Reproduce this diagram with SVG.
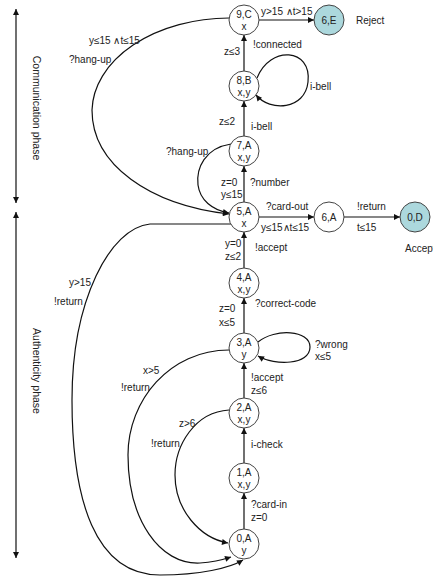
<svg xmlns="http://www.w3.org/2000/svg" width="433" height="576" viewBox="0 0 433 576">
<style>
text{font-family:"Liberation Sans",Arial,sans-serif;font-size:10px;fill:#222}
.st text{text-anchor:middle}
.node circle{fill:#fff;stroke:#444;stroke-width:1}
.node.fin circle{fill:#acd8dd}
#edges path,#phases path{fill:none;stroke:#111;stroke-width:1.2}
#edges path{marker-end:url(#ah)}
.ph{font-size:10.5px;text-anchor:middle}
</style>
<defs>
<marker id="ah" viewBox="0 0 10 10" refX="10" refY="5" markerWidth="7" markerHeight="6" markerUnits="userSpaceOnUse" orient="auto"><path d="M0,0 L10,5 L0,10 z" fill="#111"/></marker>
<marker id="ahs" viewBox="0 0 10 10" refX="10" refY="5" markerWidth="7" markerHeight="6" markerUnits="userSpaceOnUse" orient="auto-start-reverse"><path d="M0,0 L10,5 L0,10 z" fill="#111"/></marker>
</defs>
<rect width="433" height="576" fill="#fff"/>
<g id="phases">
<path d="M16 203 L16 9" marker-start="url(#ahs)" marker-end="url(#ahs)"/>
<path d="M16 558 L16 212" marker-start="url(#ahs)" marker-end="url(#ahs)"/>
<text class="ph" transform="translate(33,108) rotate(90)">Communication phase</text>
<text class="ph" transform="translate(33,371) rotate(90)">Authenticity phase</text>
</g>
<g id="edges">
<path d="M244 529 L244 493"/>
<path d="M244 463 L244 428"/>
<path d="M244 398 L244 363"/>
<path d="M244 333 L244 298"/>
<path d="M244 268 L244 232"/>
<path d="M244 202 L244 166"/>
<path d="M244 136 L244 101"/>
<path d="M244 71 L244 35"/>
<path d="M259 20 L314 20"/>
<path d="M259 217 L314 217"/>
<path d="M344 217 L400 217"/>
<path d="M257 78 C270 45 312 48 308 82 C305 110 270 112 256 95"/>
<path d="M258 342 C275 328 310 330 310 347 C310 365 275 366 258 356"/>
<path d="M229 18 A138 94 0 0 0 92 110 C92 165 150 205 229 214"/>
<path d="M231 144 C205 148 196 168 198 185 C200 200 212 210 229 213"/>
<path d="M231 224 L150 224 C110 228 72 300 72 400 C72 500 95 575 160 575 C200 575 230 568 243 560"/>
<path d="M229 350 C170 350 128 400 128 455 C128 520 160 565 200 563 C215 562 225 559 231 557"/>
<path d="M229 410 C195 412 175 445 175 475 C175 510 200 538 228 543"/>
</g>
<g id="labels">
<text x="261" y="14.5">y&gt;15 ∧t&gt;15</text>
<text x="356" y="24">Reject</text>
<text x="253" y="48">!connected</text>
<text x="224" y="55">z≤3</text>
<text x="310" y="90">i-bell</text>
<text x="219" y="125">z≤2</text>
<text x="251" y="129.5">i-bell</text>
<text x="166" y="155">?hang-up</text>
<text x="221" y="186">z=0</text>
<text x="250" y="186">?number</text>
<text x="221" y="198">y≤15</text>
<text x="89" y="44">y≤15 ∧t≤15</text>
<text x="69" y="63">?hang-up</text>
<text x="266" y="209.5">?card-out</text>
<text x="357" y="209.5">!return</text>
<text x="261" y="230.5">y≤15∧t≤15</text>
<text x="357" y="230.5">t≤15</text>
<text x="405" y="252">Accept</text>
<text x="225" y="247">y=0</text>
<text x="225" y="260">z≤2</text>
<text x="255" y="251">!accept</text>
<text x="255" y="307">?correct-code</text>
<text x="219" y="312">z=0</text>
<text x="219" y="326">x≤5</text>
<text x="315" y="348">?wrong</text>
<text x="315" y="360">x≤5</text>
<text x="251" y="381">!accept</text>
<text x="251" y="394">z≤6</text>
<text x="251" y="448">i-check</text>
<text x="251" y="508">?card-in</text>
<text x="251" y="521">z=0</text>
<text x="69" y="286">y&gt;15</text>
<text x="54" y="305">!return</text>
<text x="143" y="374">x&gt;5</text>
<text x="121" y="391">!return</text>
<text x="179" y="427">z&gt;6</text>
<text x="151" y="447">!return</text>
</g>
<g class="st">
<g id="n9C" class="node"><circle cx="244" cy="20" r="15"/><text x="244" y="18">9,C</text><text x="244" y="30">x</text></g>
<g id="n6E" class="node fin"><circle cx="329" cy="20" r="15"/><text x="329" y="23.5">6,E</text></g>
<g id="n8B" class="node"><circle cx="244" cy="86" r="15"/><text x="244" y="84">8,B</text><text x="244" y="96">x,y</text></g>
<g id="n7A" class="node"><circle cx="244" cy="151" r="15"/><text x="244" y="149">7,A</text><text x="244" y="161">x,y</text></g>
<g id="n5A" class="node"><circle cx="244" cy="217" r="15"/><text x="244" y="215">5,A</text><text x="244" y="227">x</text></g>
<g id="n6A" class="node"><circle cx="329" cy="217" r="15"/><text x="329" y="220.5">6,A</text></g>
<g id="n0D" class="node fin"><circle cx="415" cy="217" r="15"/><text x="415" y="220.5">0,D</text></g>
<g id="n4A" class="node"><circle cx="244" cy="283" r="15"/><text x="244" y="281">4,A</text><text x="244" y="293">x,y</text></g>
<g id="n3A" class="node"><circle cx="244" cy="348" r="15"/><text x="244" y="346">3,A</text><text x="244" y="358">y</text></g>
<g id="n2A" class="node"><circle cx="244" cy="413" r="15"/><text x="244" y="411">2,A</text><text x="244" y="423">x,y</text></g>
<g id="n1A" class="node"><circle cx="244" cy="478" r="15"/><text x="244" y="476">1,A</text><text x="244" y="488">x,y</text></g>
<g id="n0A" class="node"><circle cx="244" cy="544" r="15"/><text x="244" y="542">0,A</text><text x="244" y="554">y</text></g>
</g>
</svg>
